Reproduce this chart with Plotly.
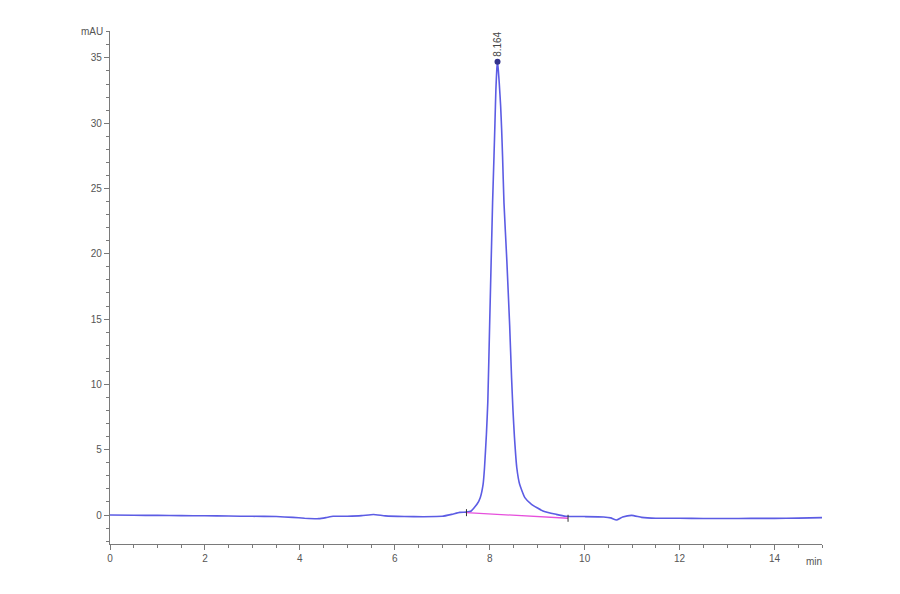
import plotly.graph_objects as go

# Chromatogram signal (time in min, absorbance in mAU)
time_min = [0.0, 0.5, 1.0, 1.5, 2.0, 2.5, 3.0, 3.5, 3.85, 4.1, 4.4, 4.55, 4.7, 5.0, 5.3, 5.55,
            5.8, 6.2, 6.6, 7.0, 7.2, 7.37, 7.51, 7.61, 7.73, 7.80, 7.86, 7.89, 7.93, 7.96,
            8.00, 8.06, 8.09, 8.11, 8.13, 8.15, 8.164, 8.18, 8.20, 8.23, 8.25, 8.27, 8.30,
            8.36, 8.42, 8.46, 8.49, 8.52, 8.57, 8.63, 8.74, 8.88, 9.12, 9.40, 9.6, 10.0,
            10.4, 10.55, 10.67, 10.8, 10.99, 11.2, 11.5, 12.0, 12.5, 13.0, 13.5, 14.0, 14.5, 15.0]
signal_mau = [0.0, -0.02, -0.03, -0.05, -0.06, -0.08, -0.1, -0.12, -0.18, -0.25, -0.28, -0.2,
              -0.1, -0.09, -0.05, 0.04, -0.07, -0.12, -0.13, -0.1, 0.05, 0.2, 0.22, 0.31, 0.82,
              1.33, 2.35, 3.62, 6.18, 8.7, 14.85, 23.9, 27.5, 30.0, 32.6, 34.2, 34.7, 34.1,
              33.1, 31.3, 29.6, 27.5, 23.9, 19.5, 14.5, 10.5, 8.0, 6.0, 3.62, 2.35, 1.33, 0.82,
              0.31, 0.05, -0.1, -0.12, -0.15, -0.22, -0.38, -0.15, -0.03, -0.18, -0.25, -0.25,
              -0.27, -0.27, -0.26, -0.26, -0.24, -0.2]

# Integration baseline of the peak
base_time = [7.51, 9.65]
base_mau = [0.18, -0.25]

# Peak label
peak_time = 8.164
peak_mau = 34.7
peak_label = "8.164"

x_ticks = [0, 2, 4, 6, 8, 10, 12, 14]
y_ticks = [0, 5, 10, 15, 20, 25, 30, 35]

axis_color = "#7a7a7a"
label_color = "#555555"

fig = go.Figure()
fig.add_trace(go.Scatter(x=time_min, y=signal_mau, mode="lines",
                         line=dict(color="rgb(92,92,228)", width=1.6, shape="spline", smoothing=0.4),
                         hoverinfo="skip", showlegend=False))
fig.add_trace(go.Scatter(x=base_time, y=base_mau, mode="lines+markers",
                         line=dict(color="rgb(230,80,220)", width=1.3),
                         marker=dict(symbol="line-ns", size=5, color="#333333",
                                     line=dict(width=1, color="#333333")),
                         hoverinfo="skip", showlegend=False))
fig.add_trace(go.Scatter(x=[peak_time], y=[peak_mau], mode="markers",
                         marker=dict(size=6, color="rgb(50,50,140)"),
                         hoverinfo="skip", showlegend=False))

fig.add_annotation(x=peak_time, y=peak_mau, text=peak_label, textangle=-90,
                   showarrow=False, xanchor="center", yanchor="bottom", yshift=3,
                   font=dict(family="Liberation Sans, Arial", size=10, color="#444444"))
fig.add_annotation(xref="paper", x=0, y=37, yref="y", text="mAU", showarrow=False,
                   xanchor="right", yanchor="middle", xshift=-5, yshift=0,
                   font=dict(family="Liberation Sans, Arial", size=10, color=label_color))
fig.add_annotation(x=15, xref="x", yref="paper", y=0, text="min", showarrow=False,
                   xanchor="right", yanchor="top", yshift=-10, xshift=2,
                   font=dict(family="Liberation Sans, Arial", size=10, color=label_color))

fig.update_xaxes(range=[0, 15], tickvals=x_ticks, ticktext=[str(v) for v in x_ticks],
                 showgrid=False, zeroline=False, showline=True, linecolor=axis_color, linewidth=1.2,
                 ticks="outside", ticklen=5, tickcolor=axis_color, tickwidth=1,
                 minor=dict(dtick=0.5, tick0=0, ticks="outside", ticklen=3, tickcolor=axis_color, tickwidth=1),
                 tickfont=dict(family="Liberation Sans, Arial", size=10, color=label_color))
fig.update_yaxes(range=[-2.22, 37.06], tickvals=y_ticks, ticktext=[str(v) for v in y_ticks],
                 showgrid=False, zeroline=False, showline=True, linecolor=axis_color, linewidth=1.2,
                 ticks="outside", ticklen=5, tickcolor=axis_color, tickwidth=1,
                 minor=dict(dtick=1, tick0=0, ticks="outside", ticklen=3, tickcolor=axis_color, tickwidth=1),
                 tickfont=dict(family="Liberation Sans, Arial", size=10, color=label_color))

fig.update_layout(width=900, height=594, margin=dict(l=102, r=85.5, t=23, b=58),
                  plot_bgcolor="white", paper_bgcolor="white", showlegend=False)

fig.write_html("out.html")
